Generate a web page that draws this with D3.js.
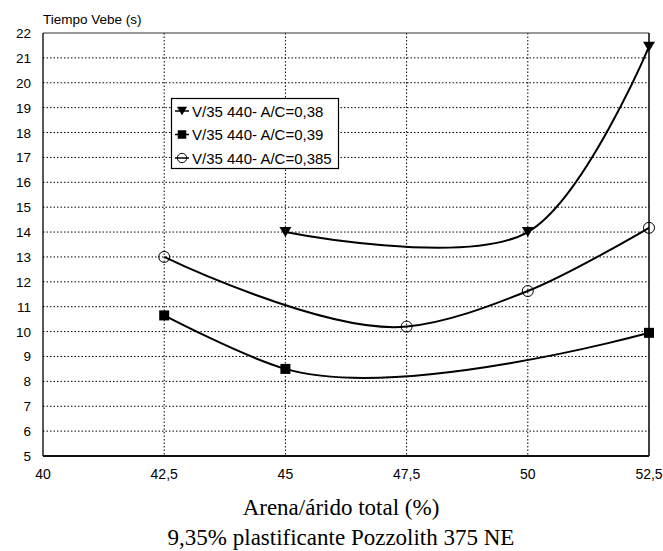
<!DOCTYPE html>
<html lang="es">
<head>
<meta charset="UTF-8">
<title>Tiempo Vebe</title>
<script src="https://cdnjs.cloudflare.com/ajax/libs/d3/7.8.5/d3.min.js"></script>
<style>
    body { margin: 0; background: #fff; }
    svg { display: block; }
    .tick-lbl { font-family: Arial, "Liberation Sans", sans-serif; fill: #000; }
    .axis-title { font-family: "Times New Roman", "Liberation Serif", serif; fill: #000; }
</style>
</head>
<body>
<svg id="chart" width="663" height="551"></svg>
<script>
// data
var xTicks = [40, 42.5, 45, 47.5, 50, 52.5];
var xTickLabels = ["40", "42,5", "45", "47,5", "50", "52,5"];
var yTicks = d3.range(5, 23);

var seriesNames = ["V/35 440- A/C=0,38", "V/35 440- A/C=0,39", "V/35 440- A/C=0,385"];
var xs038 = [45, 50, 52.5];
var ys038 = [14.0, 14.0, 21.45];
var xs039 = [42.5, 45, 52.5];
var ys039 = [10.65, 8.5, 9.95];
var xs0385 = [42.5, 47.5, 50, 52.5];
var ys0385 = [13.0, 10.2, 11.63, 14.17];

var series = [
    {name: seriesNames[0], xs: xs038, ys: ys038, marker: "tri"},
    {name: seriesNames[1], xs: xs039, ys: ys039, marker: "sq"},
    {name: seriesNames[2], xs: xs0385, ys: ys0385, marker: "circ"}
];

var margin = {left: 43, right: 14, top: 33, bottom: 95};
var W = 663, H = 551;
var svg = d3.select("#chart");

var x = d3.scaleLinear().domain([40, 52.5]).range([margin.left, W - margin.right]);
var y = d3.scaleLinear().domain([5, 22]).range([H - margin.bottom, margin.top]);

// grid
svg.append("g").selectAll("line")
    .data(yTicks.filter(d => d > 5 && d < 22))
    .enter().append("line")
    .attr("x1", x(40)).attr("x2", x(52.5))
    .attr("y1", d => y(d)).attr("y2", d => y(d))
    .attr("stroke", "#000").attr("stroke-width", 1)
    .attr("stroke-dasharray", "1.5,2");

svg.append("g").selectAll("line")
    .data(xTicks.filter(d => d > 40 && d < 52.5))
    .enter().append("line")
    .attr("x1", d => x(d)).attr("x2", d => x(d))
    .attr("y1", y(22)).attr("y2", y(5))
    .attr("stroke", "#000").attr("stroke-width", 1)
    .attr("stroke-dasharray", "1.5,2");

// frame
svg.append("line").attr("x1", x(40)).attr("x2", x(52.5)).attr("y1", y(22)).attr("y2", y(22))
    .attr("stroke", "#333").attr("stroke-width", 1);
svg.append("line").attr("x1", x(40)).attr("x2", x(40)).attr("y1", y(22)).attr("y2", y(5))
    .attr("stroke", "#111").attr("stroke-width", 1.4);
svg.append("line").attr("x1", x(52.5)).attr("x2", x(52.5)).attr("y1", y(22)).attr("y2", y(5))
    .attr("stroke", "#111").attr("stroke-width", 1.6);
svg.append("line").attr("x1", x(40)).attr("x2", x(52.5)).attr("y1", y(5)).attr("y2", y(5))
    .attr("stroke", "#111").attr("stroke-width", 2);

// tick labels
svg.append("g").selectAll("text")
    .data(yTicks)
    .enter().append("text")
    .attr("class", "tick-lbl")
    .attr("x", 31).attr("y", d => y(d) + 5)
    .attr("text-anchor", "end")
    .style("font-size", "13.5px")
    .text(d => d);

svg.append("g").selectAll("text")
    .data(xTicks)
    .enter().append("text")
    .attr("class", "tick-lbl")
    .attr("x", d => x(d)).attr("y", 479)
    .attr("text-anchor", "middle")
    .style("font-size", "14px")
    .text((d, i) => xTickLabels[i]);

svg.append("text").attr("class", "tick-lbl")
    .attr("x", 43).attr("y", 24)
    .style("font-size", "13.5px")
    .text("Tiempo Vebe (s)");

svg.append("text").attr("class", "axis-title")
    .attr("x", 341).attr("y", 515).attr("text-anchor", "middle")
    .style("font-size", "23px")
    .text("Arena/árido total (%)");
svg.append("text").attr("class", "axis-title")
    .attr("x", 341).attr("y", 545).attr("text-anchor", "middle")
    .style("font-size", "23px")
    .text("9,35% plastificante Pozzolith 375 NE");

// curves
var line = d3.line()
    .x(d => x(d[0])).y(d => y(d[1]))
    .curve(d3.curveCatmullRom.alpha(1));

function drawMarker(g, kind, cx, cy, s) {
    if (kind === "tri") {
        g.append("path")
            .attr("d", `M${cx - 6 * s},${cy - 5 * s}L${cx + 6 * s},${cy - 5 * s}L${cx},${cy + 5 * s}Z`)
            .attr("fill", "#000");
    } else if (kind === "sq") {
        g.append("rect")
            .attr("x", cx - 5 * s).attr("y", cy - 5 * s)
            .attr("width", 10 * s).attr("height", 10 * s)
            .attr("fill", "#000");
    } else {
        g.append("circle")
            .attr("cx", cx).attr("cy", cy).attr("r", 5.5 * s)
            .attr("fill", "none").attr("stroke", "#000").attr("stroke-width", 1);
    }
}

series.forEach(s => {
    var pts = s.xs.map((v, i) => [v, s.ys[i]]);
    svg.append("path")
        .attr("d", line(pts))
        .attr("fill", "none")
        .attr("stroke", "#000")
        .attr("stroke-width", 2);
    var g = svg.append("g");
    pts.forEach(p => drawMarker(g, s.marker, x(p[0]), y(p[1]), 1));
});

// legend
var lg = svg.append("g");
lg.append("rect")
    .attr("x", 171.5).attr("y", 98.5).attr("width", 167).attr("height", 70)
    .attr("fill", "#fff").attr("stroke", "#000").attr("stroke-width", 1.2);
series.forEach((s, i) => {
    var cy = 111 + i * 23.5;
    lg.append("line").attr("x1", 175).attr("x2", 189).attr("y1", cy).attr("y2", cy)
        .attr("stroke", "#000").attr("stroke-width", 1.5);
    drawMarker(lg, s.marker, 182, cy, 0.85);
    lg.append("text").attr("class", "tick-lbl")
        .attr("x", 192).attr("y", cy + 5.5)
        .style("font-size", "15px")
        .text(s.name);
});
</script>
</body>
</html>
